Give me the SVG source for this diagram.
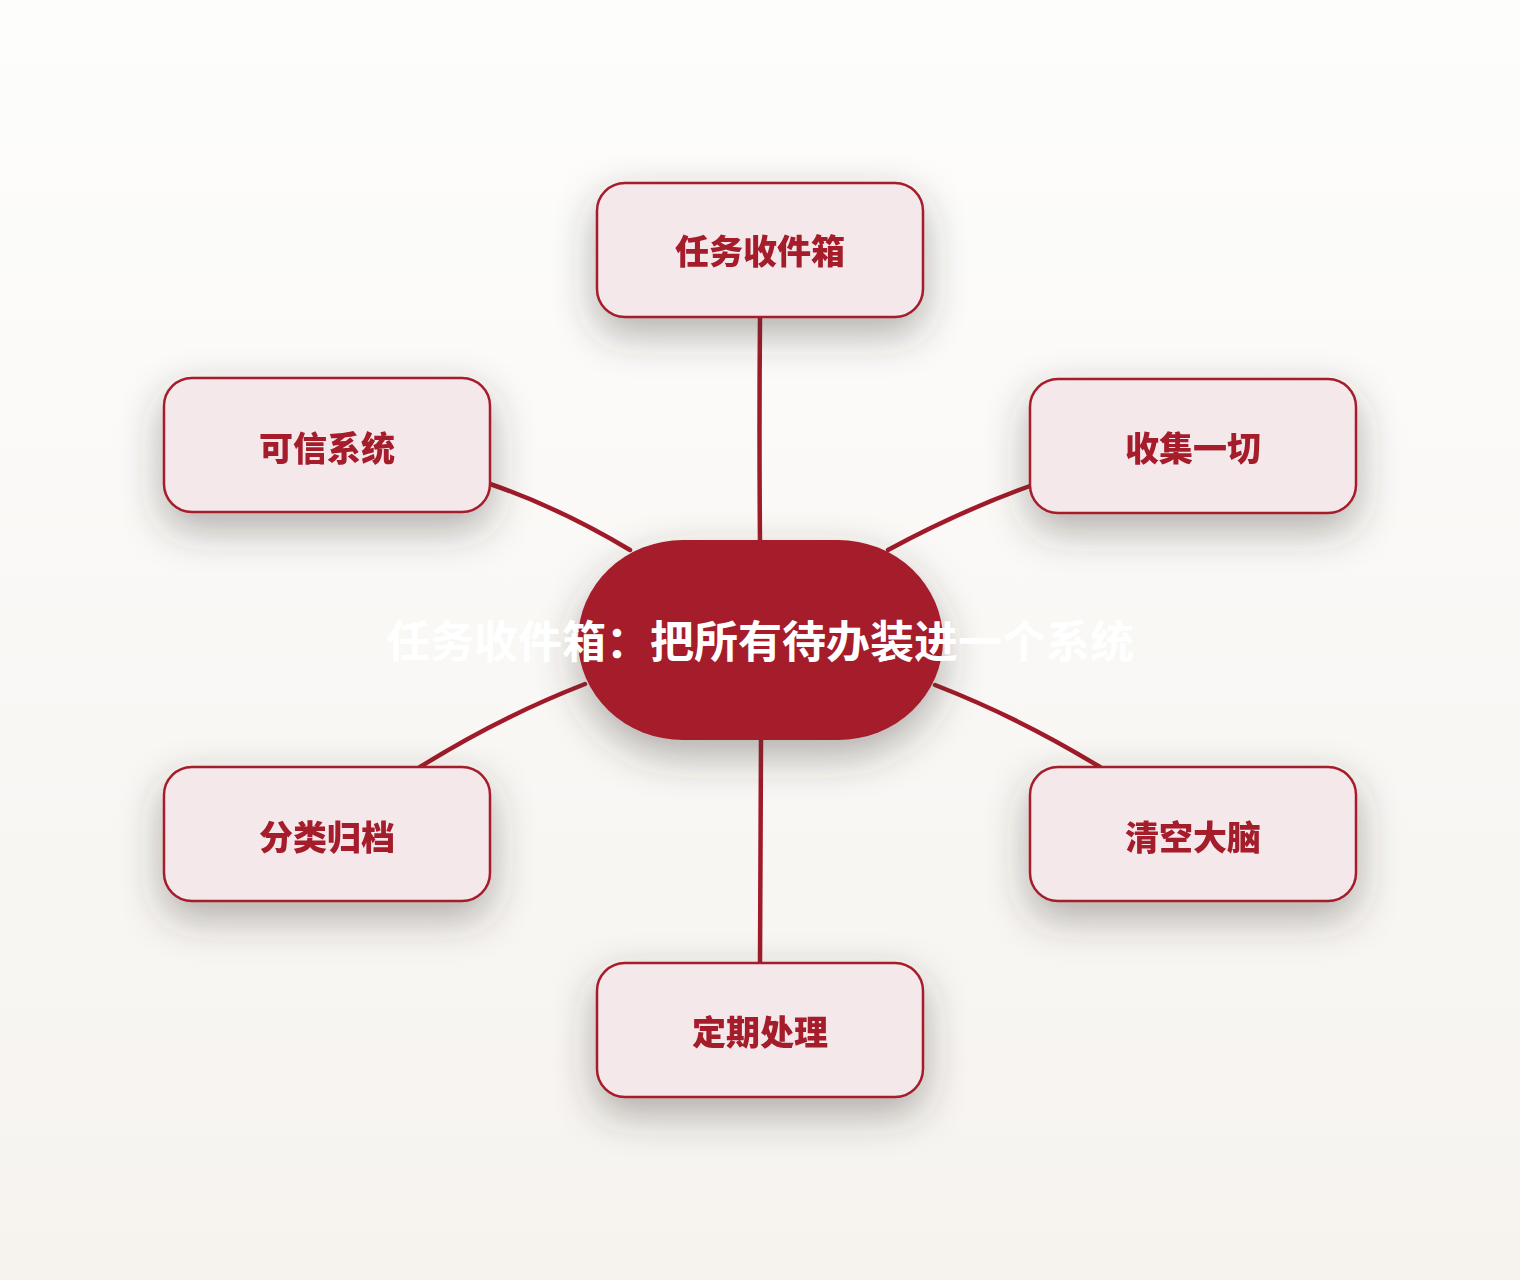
<svg xmlns="http://www.w3.org/2000/svg" width="1520" height="1280" viewBox="0 0 1520 1280">
  <defs>
    <linearGradient id="bg" x1="0" y1="0" x2="0" y2="1">
      <stop offset="0" stop-color="#fdfdfc"/>
      <stop offset="1" stop-color="#f6f3ef"/>
    </linearGradient>
    <filter id="shadow" x="-50%" y="-60%" width="200%" height="240%">
      <feGaussianBlur in="SourceAlpha" stdDeviation="20"/>
      <feOffset dx="0" dy="16" result="b"/>
      <feFlood flood-color="#3a3530" flood-opacity="0.38"/>
      <feComposite in2="b" operator="in"/>
      <feMerge>
        <feMergeNode/>
        <feMergeNode in="SourceGraphic"/>
      </feMerge>
    </filter>
    <style>
      .node rect { fill: #f4e8eb; stroke: #a51b2b; stroke-width: 2.5; }
      .node text { fill: #a51b2b; font-family: "Noto Sans CJK SC", "Noto Sans", sans-serif; font-weight: 900; font-size: 34px; text-anchor: middle; }
      .edge { fill: none; stroke: #a01a29; stroke-width: 4.5; stroke-linecap: round; }
      .center rect { fill: #a51b2b; }
    </style>
  </defs>
  <rect x="0" y="0" width="1520" height="1280" fill="url(#bg)"/>

  <g id="connectors">
    <path class="edge" d="M760,318 Q759,430 760,542"/>
    <path class="edge" d="M490,484 Q560,508 630,550"/>
    <path class="edge" d="M1030,486 Q958,512 888,550"/>
    <path class="edge" d="M585,684 Q498,718 420,767"/>
    <path class="edge" d="M935,685 Q1020,718 1100,767"/>
    <path class="edge" d="M761,740 Q760,852 760,963"/>
  </g>

  <g id="center" class="center" filter="url(#shadow)">
    <rect x="578" y="540" width="365" height="200" rx="105" ry="100"/>
  </g>

  <g id="node-inbox" class="node" filter="url(#shadow)">
    <rect x="597" y="183" width="326" height="134" rx="28"/>
    <text x="760" y="264">任务收件箱</text>
  </g>
  <g id="node-trusted" class="node" filter="url(#shadow)">
    <rect x="164" y="378" width="326" height="134" rx="28"/>
    <text x="327" y="461">可信系统</text>
  </g>
  <g id="node-collect" class="node" filter="url(#shadow)">
    <rect x="1030" y="379" width="326" height="134" rx="28"/>
    <text x="1193" y="461">收集一切</text>
  </g>
  <g id="node-classify" class="node" filter="url(#shadow)">
    <rect x="164" y="767" width="326" height="134" rx="28"/>
    <text x="327" y="850">分类归档</text>
  </g>
  <g id="node-clear" class="node" filter="url(#shadow)">
    <rect x="1030" y="767" width="326" height="134" rx="28"/>
    <text x="1193" y="850">清空大脑</text>
  </g>
  <g id="node-review" class="node" filter="url(#shadow)">
    <rect x="597" y="963" width="326" height="134" rx="28"/>
    <text x="760" y="1045">定期处理</text>
  </g>

  <text x="760" y="658" fill="#ffffff" font-family="Noto Sans CJK SC, Noto Sans, sans-serif" font-weight="700" font-size="44" text-anchor="middle">任务收件箱：把所有待办装进一个系统</text>
</svg>
